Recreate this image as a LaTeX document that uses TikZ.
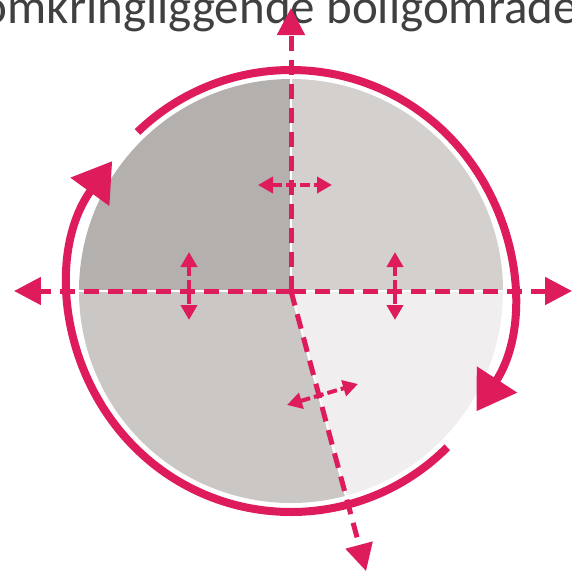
\documentclass[tikz,border=0pt]{standalone}
\usepackage{fontspec}
\setmainfont{Carlito}
\usetikzlibrary{arrows.meta}
\definecolor{rodlinje}{HTML}{DE1B5B}
\definecolor{graaA}{HTML}{B4B0AE}
\definecolor{graaB}{HTML}{D3D0CE}
\definecolor{graaC}{HTML}{CAC7C5}
\definecolor{graaD}{HTML}{F0EEEE}
\tikzset{
	akse/.style={draw=rodlinje, line width=5pt, dash pattern=on 15pt off 9pt, -{Triangle[length=27pt,width=27pt]}},
	dobbel/.style={draw=rodlinje, line width=4pt, dash pattern=on 10pt off 4pt, {Triangle[length=15pt,width=16pt]}-{Triangle[length=15pt,width=16pt]}},
	ring/.style={draw=rodlinje, line width=8pt, -{Triangle[length=38pt,width=46pt]}},
	skille/.style={draw=white, line width=2pt}
}
\begin{document}
\begin{tikzpicture}[x=1pt, y=1pt]
			\useasboundingbox (-291,-280) rectangle (281,291);
			\coordinate (O) at (0,0);

			% tekst øverst (kuttet av bildekanten)
			\node[font=\fontsize{49}{52}\selectfont, text=black!75, anchor=base east, inner sep=0pt] (tittel) at (287,268) {omkringliggende boligområde};

			% fire felt i sirkelen
			\fill[graaA] (O) -- (180:212) arc[start angle=180, end angle=90, radius=212] -- cycle;
			\fill[graaB] (O) -- (90:212) arc[start angle=90, end angle=0, radius=212] -- cycle;
			\fill[graaD] (O) -- (0:212) arc[start angle=0, end angle=-75, radius=212] -- cycle;
			\fill[graaC] (O) -- (-75:212) arc[start angle=-75, end angle=-180, radius=212] -- cycle;
			\draw[skille] (180:212) -- (0:212);
			\draw[skille] (O) -- (90:212);
			\draw[skille] (O) -- (-75:212);

			% ytre ring med to piler
			\draw[ring] (134:221) arc[start angle=134, end angle=-33, radius=221];
			\draw[ring] (315:221) arc[start angle=315, end angle=144, radius=221];

			% stiplede akser
			\coordinate (venstre) at (-277,0);
			\coordinate (hoyre) at (281,0);
			\coordinate (topp) at (0,283);
			\coordinate (bunn) at (-75:290);
			\draw[akse] (O) -- (venstre);
			\draw[akse] (O) -- (hoyre);
			\draw[akse] (O) -- (topp);
			\draw[akse] (O) -- (bunn);

			% små doble piler over grensene
			\draw[dobbel] (-33,106) -- (41,106);
			\draw[dobbel] (-102,39) -- (-102,-29);
			\draw[dobbel] (104,39) -- (104,-29);
			\draw[dobbel] (-4,-114) -- (67,-93);
		\end{tikzpicture}
\end{document}
